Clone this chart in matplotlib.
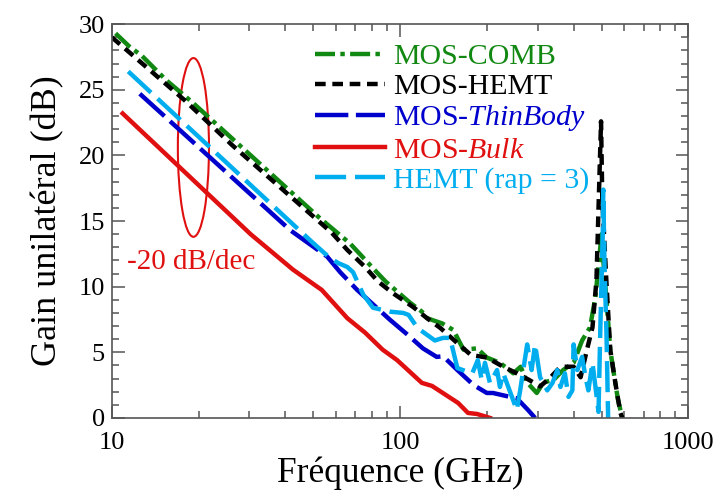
import matplotlib
matplotlib.use("Agg")
import matplotlib.pyplot as plt
from matplotlib.patches import Ellipse
from matplotlib.ticker import MultipleLocator, LogLocator, NullFormatter, FixedFormatter, FixedLocator

plt.rcParams['font.family'] = ['Liberation Serif', 'DejaVu Serif']
plt.rcParams['mathtext.fontset'] = 'custom'
plt.rcParams['mathtext.rm'] = 'Liberation Serif'
plt.rcParams['mathtext.it'] = 'Liberation Serif:italic'

# --- data (GHz, dB) ---
f_comb = [10.3, 11.5, 12.7, 14.1, 15.5, 18.9, 52.8, 67, 83, 89, 108, 119, 124, 140, 153, 166, 185, 200,
          222, 247, 262, 276, 298, 314, 341, 368, 400, 428, 456, 476, 490, 500, 507, 520, 536, 555, 570, 590]
g_comb = [29.3, 28.3, 27.6, 26.6, 25.7, 24.1, 15.2, 13.3, 11.1, 10.4, 8.8, 8.1, 7.6, 7.2, 6.7, 5.2, 5.3, 4.6,
          4.2, 3.4, 3.9, 2.7, 1.9, 2.7, 2.9, 3.65, 4.2, 5.9, 6.9, 9.2, 12.0, 14.0, 12.0, 9.0, 5.2, 3.0, 1.4, 0.0]

f_hemt = [10.0, 11.3, 17.9, 26.1, 51.5, 58, 65.6, 75.6, 83.8, 94.5, 111, 124, 138, 158, 176, 200, 228, 254,
          280, 306, 333, 360, 400, 423, 445, 465, 480, 494, 498, 503, 520, 536, 558, 581, 590]
g_hemt = [29.0, 28.0, 24.2, 20.8, 15.1, 14.1, 12.8, 11.5, 10.4, 9.5, 8.45, 7.6, 6.85, 5.7, 4.8, 4.6, 3.9, 3.4,
          2.9, 2.4, 3.1, 3.9, 3.9, 3.1, 5.2, 6.9, 10.5, 20.0, 22.6, 16.6, 10.3, 5.2, 2.7, 0.4, 0.0]

f_thin = [12.5, 41.6, 55.8, 62, 71, 92, 106.7, 120, 134, 141, 158, 180, 200, 210, 241, 254, 278, 294]
g_thin = [24.7, 14.3, 12.3, 11.1, 9.75, 7.5, 6.3, 5.3, 4.65, 4.7, 3.65, 2.5, 1.9, 1.9, 1.6, 1.5, 0.6, 0.0]

f_bulk = [10.9, 30.3, 42.5, 53.5, 65.6, 75.6, 87, 97.7, 119, 129, 159, 172, 185, 205]
g_bulk = [23.2, 14.0, 11.3, 9.75, 7.6, 6.5, 5.2, 4.4, 2.67, 2.44, 1.14, 0.38, 0.3, 0.0]

f_rap3 = [11.4, 49.5, 57, 61, 65.6, 68.7, 74.5, 80.5, 92, 102.5, 107, 115, 132, 141, 149, 158, 172, 178,
          186, 192, 197, 205, 217, 222, 228, 254, 261, 276, 286, 294, 306, 324, 338, 351, 360, 373, 384,
          396, 400, 412, 428, 440, 450, 465, 488, 495, 505, 507, 512, 520, 527]
g_rap3 = [26.4, 13.4, 12.2, 11.8, 11.5, 11.1, 9.4, 8.4, 8.1, 8.0, 7.85, 6.85, 5.9, 6.1, 6.1, 3.8, 3.5, 3.4,
          4.4, 2.9, 4.2, 2.67, 3.65, 2.36, 3.4, 0.6, 2.1, 5.6, 3.65, 5.6, 3.1, 2.1, 2.67, 3.65, 2.36, 3.4, 1.6,
          2.1, 5.6, 3.65, 4.65, 3.1, 2.1, 4.2, 0.46, 6.7, 14.2, 17.4, 11.5, 6.5, 0.0]

c_green = '#118811'
c_black = '#000000'
c_blue = '#0000cc'
c_red = '#e01010'
c_cyan = '#00aeef'

fig = plt.figure(figsize=(7.17, 4.94), dpi=100)
ax = fig.add_axes([0.156, 0.154, 0.804, 0.797])

lw = 3.2
l_comb, = ax.plot(f_comb, g_comb, color=c_green, lw=lw, dashes=[4.5, 1.2, 1.0, 1.2], label='MOS-COMB')
l_hemt, = ax.plot(f_hemt, g_hemt, color=c_black, lw=lw, dashes=[2.4, 1.5], label='MOS-HEMT')
l_bulk, = ax.plot(f_bulk, g_bulk, color=c_red, lw=lw, label='MOS-$\\it{Bulk}$')
l_thin, = ax.plot(f_thin, g_thin, color=c_blue, lw=lw, dashes=[7.5, 1.7], label='MOS-$\\it{ThinBody}$')
l_rap3, = ax.plot(f_rap3, g_rap3, color=c_cyan, lw=lw, dashes=[7.0, 2.0], label='HEMT (rap = 3)')

ax.set_xscale('log')
ax.set_xlim(10, 1000)
ax.set_ylim(0, 30)
ax.xaxis.set_major_locator(FixedLocator([10, 100, 1000]))
ax.xaxis.set_major_formatter(FixedFormatter(['10', '100', '1000']))
ax.xaxis.set_minor_locator(LogLocator(base=10, subs=range(2, 10)))
ax.xaxis.set_minor_formatter(NullFormatter())
ax.yaxis.set_major_locator(MultipleLocator(5))
ax.yaxis.set_minor_locator(MultipleLocator(1))

for s in ax.spines.values():
    s.set_color('#555555')
    s.set_linewidth(1.2)
ax.tick_params(which='both', direction='in', top=True, right=True, colors='#555555',
               labelcolor='black', labelsize=19, width=1.1)
ax.tick_params(which='major', length=9)
ax.tick_params(which='minor', length=5)
ax.tick_params(axis='x', which='major', pad=10)
ax.tick_params(axis='y', which='major', pad=5)

ax.set_xlabel('Fréquence (GHz)', fontsize=25.5, labelpad=2)
ax.set_ylabel('Gain unilatéral (dB)', fontsize=26, labelpad=10)

# ellipse marking the -20 dB/dec slope
ax.add_patch(Ellipse((0.1415, 0.687), 0.054, 0.454, transform=ax.transAxes,
                     fill=False, edgecolor=c_red, lw=1.5))
ax.text(11.3, 11.9, '-20 dB/dec', color=c_red, fontsize=21, va='center', ha='left')

leg = ax.legend(handles=[l_comb, l_hemt, l_thin, l_bulk, l_rap3], loc='upper left',
                bbox_to_anchor=(0.352, 0.952), frameon=False, fontsize=21.5, labelcolor='linecolor',
                handlelength=2.35, handletextpad=0.28, labelspacing=0.11, borderpad=0, borderaxespad=0)

fig.savefig('out.png', dpi=100)
